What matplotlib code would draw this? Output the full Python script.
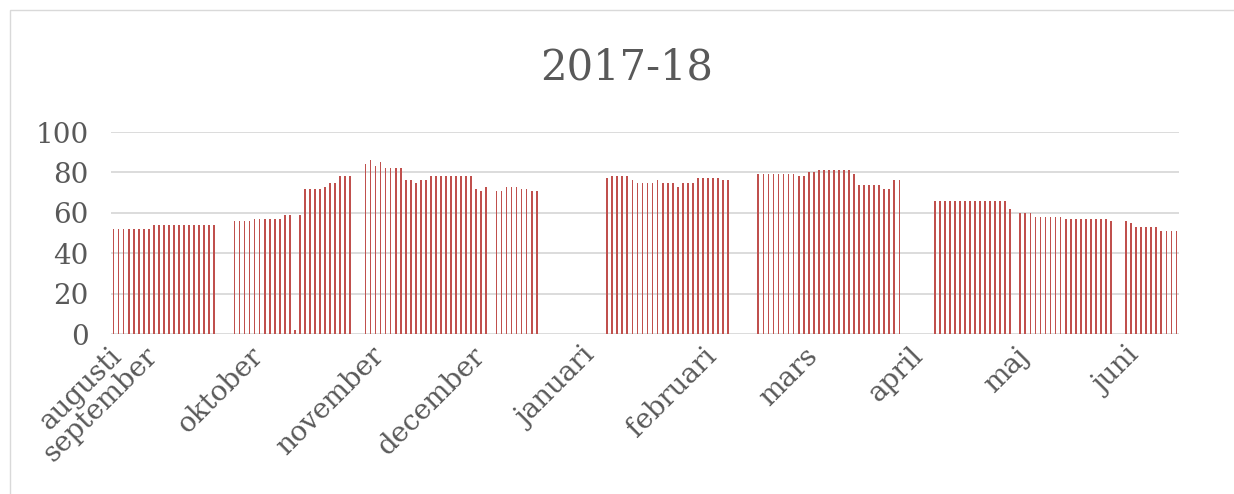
import numpy as np
import matplotlib
matplotlib.use('Agg')
import matplotlib.pyplot as plt
import matplotlib.transforms as mtrans
from matplotlib.patches import Rectangle

# values per school-day slot (nan = no value that day)
nan = np.nan
block_a = [52] * 8 + [54] * 13
block_b = [56, 56, 56, 56, 57, 57, 57, 57, 57, 57, 59, 59, 2, 59,
           72, 72, 72, 72, 73, 75, 75, 78, 78, 78]
block_c = [84, 86, 83, 85, 82, 82, 82, 82, 76, 76, 75, 76, 76,
           78, 78, 78, 78, 78, 78, 78, 78, 78, 72, 71, 73]
block_c2 = [71, 71, 73, 73, 73, 72, 72, 71, 71]
block_d = [77, 78, 78, 78, 78, 76, 75, 75, 75, 75, 76, 75, 75, 75, 73,
           75, 75, 75, 77, 77, 77, 77, 77, 76, 76]
block_e = [79] * 8 + [78, 78, 80, 80] + [81] * 7 + [79] + [74] * 5 + [72, 72, 76, 76]
block_f = [66] * 15 + [62]
block_g = [60] * 3 + [58] * 6 + [57] * 9 + [56]
block_h = [56, 55, 53, 53, 53, 53, 53, 51, 51, 51, 51]

values = (block_a + [nan] * 3 + block_b + [nan] * 2 + block_c + [nan] + block_c2
          + [nan] * 13 + block_d + [nan] * 5 + block_e + [nan] * 6 + block_f
          + [nan] + block_g + [nan] * 2 + block_h)

months = ['augusti', 'september', 'oktober', 'november', 'december', 'januari',
          'februari', 'mars', 'april', 'maj', 'juni']
month_pos = [0, 7, 28, 52, 72, 94, 118, 138, 159, 180, 202]

title = '2017-18'

plt.rcParams['font.family'] = ['DejaVu Serif']
text_col = '#595959'
grid_col = '#D9D9D9'

fig = plt.figure(figsize=(12.34, 4.94), dpi=100)
ax = fig.add_axes([111 / 1234, 1 - 334 / 494, 1068 / 1234, 202 / 494])

x = np.arange(len(values))
ax.bar(x, np.nan_to_num(values), width=0.35, color='#C0504D', zorder=3)

ax.set_xlim(-0.5, len(values) - 0.5)
ax.set_ylim(0, 100)
ax.set_yticks(range(0, 101, 20))
ax.yaxis.grid(True, color=grid_col, linewidth=1.3, zorder=0)
for s in ax.spines.values():
    s.set_visible(False)
ax.tick_params(axis='both', length=0, labelsize=20, colors=text_col)
ax.tick_params(axis='y', pad=16)

ax.set_xticks(month_pos)
ax.set_xticklabels(months, rotation=45, ha='right', rotation_mode='anchor')
ax.tick_params(axis='x', pad=6)
shift = mtrans.ScaledTranslation(-5 / 100, 0, fig.dpi_scale_trans)
for lab in ax.get_xticklabels():
    lab.set_transform(lab.get_transform() + shift)

fig.text(0.508, 1 - 68 / 494, title, ha='center', va='center',
         fontsize=30, color=text_col)

fig.patches.append(Rectangle((10 / 1234, -0.1), 1.2, 1 - 10 / 494 + 0.1,
                             transform=fig.transFigure, fill=False,
                             edgecolor=grid_col, linewidth=1))

fig.savefig('out.png', dpi=100)
